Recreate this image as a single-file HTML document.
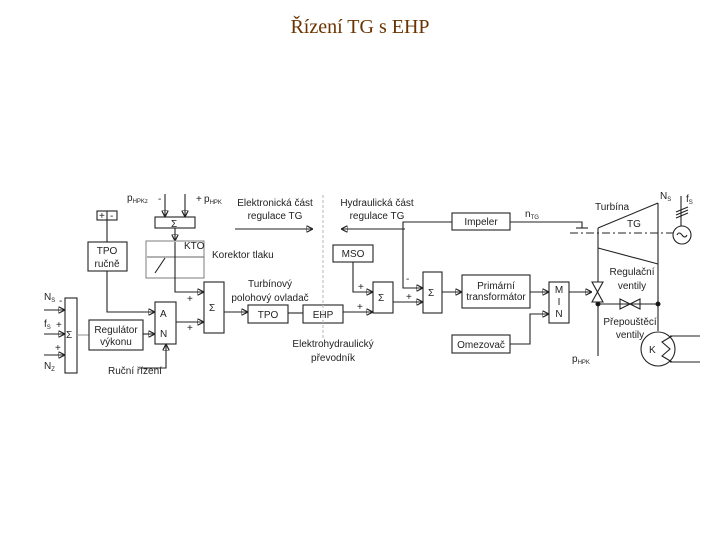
<!DOCTYPE html>
<html><head><meta charset="utf-8"><style>
body{margin:0;background:#fff;width:720px;height:540px;overflow:hidden}
svg{position:absolute;left:0;top:0}
text{font-family:"Liberation Sans",sans-serif;font-size:10px;fill:#222}
.t{font-family:"Liberation Serif",serif;font-size:20px;fill:#6b3300}
rect{fill:#fff;stroke:#222;stroke-width:1.1}
circle{stroke:#222;stroke-width:1.1}
line,polyline,path{stroke:#222;stroke-width:1.1;fill:none}
</style></head><body>
<svg width="720" height="540" viewBox="0 0 720 540">
<defs><marker id="a" markerWidth="6" markerHeight="6" refX="6" refY="3" orient="auto"><path d="M0,0 L6,3 L0,6z" fill="#111" stroke="none"/></marker></defs>
<text class="t" x="360" y="33" text-anchor="middle">Řízení TG s EHP</text>

<text x="127" y="201">p<tspan font-size="6" dy="2">HPKz</tspan></text>
<text x="158" y="202">-</text><text x="196" y="202" font-size="7">+</text>
<text x="204" y="202">p<tspan font-size="6" dy="2">HPK</tspan></text>
<line x1="165" y1="194" x2="165" y2="217" marker-end="url(#a)"/>
<line x1="185" y1="194" x2="185" y2="217" marker-end="url(#a)"/>
<rect x="155" y="217" width="40" height="11"/><text x="171" y="227">Σ</text>
<line x1="175" y1="228" x2="175" y2="241" marker-end="url(#a)"/>
<rect x="146" y="241" width="58" height="37" style="stroke:#888"/>
<line x1="147" y1="257" x2="204" y2="257" style="stroke:#666"/>
<line x1="175" y1="242" x2="175" y2="278"/>
<line x1="155" y1="273" x2="165" y2="258"/>
<text x="184" y="249" font-size="9">KTO</text>
<text x="212" y="258">Korektor tlaku</text>

<rect x="97" y="211" width="20" height="9"/><line x1="107" y1="211" x2="107" y2="220"/>
<text x="99" y="219" font-size="8">+</text><text x="110" y="219" font-size="8">-</text>
<line x1="107" y1="220" x2="107" y2="242"/>
<rect x="88" y="242" width="39" height="29"/>
<text x="107" y="254" text-anchor="middle">TPO</text><text x="107" y="267" text-anchor="middle">ručně</text>
<polyline points="107,271 107,312 155,312" marker-end="url(#a)"/>

<rect x="155" y="302" width="21" height="42"/>
<text x="160" y="317">A</text><text x="160" y="337">N</text>
<polyline points="175,278 175,292 204,292" marker-end="url(#a)"/>
<text x="187" y="302" font-size="8">+</text>
<line x1="176" y1="322" x2="204" y2="322" marker-end="url(#a)"/>
<text x="187" y="331" font-size="8">+</text>
<rect x="204" y="282" width="20" height="51"/><text x="209" y="311">Σ</text>
<line x1="224" y1="312" x2="248" y2="312" marker-end="url(#a)"/>
<text x="270" y="287" text-anchor="middle">Turbínový</text>
<text x="270" y="301" text-anchor="middle">polohový ovladač</text>
<rect x="248" y="305" width="40" height="18"/><text x="268" y="318" text-anchor="middle">TPO</text>
<line x1="288" y1="313" x2="303" y2="313"/>
<rect x="303" y="305" width="40" height="18"/><text x="323" y="318" text-anchor="middle">EHP</text>
<text x="333" y="347" text-anchor="middle">Elektrohydraulický</text>
<text x="333" y="361" text-anchor="middle">převodník</text>

<rect x="65" y="298" width="12" height="75"/><text x="66" y="338">Σ</text>
<text x="44" y="300">N<tspan font-size="6" dy="2">S</tspan></text><text x="59" y="304" font-size="8">-</text>
<line x1="44" y1="310" x2="65" y2="310" marker-end="url(#a)"/>
<text x="44" y="327">f<tspan font-size="6" dy="2">S</tspan></text><text x="56" y="328" font-size="8">+</text>
<line x1="44" y1="334" x2="65" y2="334" marker-end="url(#a)"/>
<text x="55" y="351" font-size="8">+</text>
<line x1="44" y1="355" x2="65" y2="355" marker-end="url(#a)"/>
<text x="44" y="369">N<tspan font-size="6" dy="2">Z</tspan></text>
<line x1="77" y1="335" x2="89" y2="335" style="stroke:#999"/>
<rect x="89" y="320" width="54" height="30"/>
<text x="116" y="333" text-anchor="middle" font-size="9">Regulátor</text>
<text x="116" y="345" text-anchor="middle" font-size="9">výkonu</text>
<line x1="143" y1="334" x2="155" y2="334" marker-end="url(#a)"/>
<text x="108" y="374" font-size="9">Ruční řízení</text>
<polyline points="140,368 166,368 166,344" marker-end="url(#a)"/>

<line x1="323" y1="195" x2="323" y2="340" style="stroke:#bbb;stroke-dasharray:3,2"/>
<text x="275" y="206" text-anchor="middle">Elektronická část</text>
<text x="275" y="219" text-anchor="middle">regulace TG</text>
<line x1="235" y1="229" x2="313" y2="229" marker-end="url(#a)"/>
<text x="377" y="206" text-anchor="middle">Hydraulická část</text>
<text x="377" y="219" text-anchor="middle">regulace TG</text>
<line x1="405" y1="229" x2="341" y2="229" marker-end="url(#a)"/>

<rect x="333" y="245" width="40" height="17"/><text x="353" y="257" text-anchor="middle">MSO</text>
<polyline points="353,262 353,292 373,292" marker-end="url(#a)"/>
<text x="358" y="290" font-size="8">+</text>
<line x1="343" y1="312" x2="373" y2="312" marker-end="url(#a)"/>
<text x="357" y="310" font-size="8">+</text>
<rect x="373" y="282" width="20" height="31"/><text x="378" y="301">Σ</text>
<line x1="393" y1="302" x2="423" y2="302" marker-end="url(#a)"/>
<text x="406" y="300" font-size="8">+</text>
<rect x="452" y="213" width="58" height="17"/><text x="481" y="225" text-anchor="middle">Impeler</text>
<polyline points="452,222 403,222 403,288 423,288" marker-end="url(#a)"/>
<text x="406" y="282" font-size="8">-</text>
<rect x="423" y="272" width="19" height="41"/><text x="428" y="296">Σ</text>
<line x1="442" y1="292" x2="462" y2="292" marker-end="url(#a)"/>
<rect x="462" y="275" width="68" height="33"/>
<text x="496" y="289" text-anchor="middle" font-size="9">Primární</text>
<text x="496" y="300" text-anchor="middle" font-size="9">transformátor</text>
<line x1="530" y1="292" x2="549" y2="292" marker-end="url(#a)"/>
<rect x="549" y="282" width="20" height="41"/>
<text x="559" y="293" text-anchor="middle">M</text><text x="559" y="305" text-anchor="middle">I</text><text x="559" y="317" text-anchor="middle">N</text>
<rect x="452" y="335" width="58" height="18"/><text x="481" y="348" text-anchor="middle">Omezovač</text>
<polyline points="510,344 530,344 530,314 549,314" marker-end="url(#a)"/>
<line x1="569" y1="292" x2="592" y2="292" marker-end="url(#a)"/>
<text x="525" y="217">n<tspan font-size="6" dy="2">TG</tspan></text>
<polyline points="510,222 582,222 582,228"/>
<line x1="576" y1="228" x2="588" y2="228"/>
<line x1="570" y1="233" x2="692" y2="233" style="stroke-dasharray:8,3,2,3"/>

<line x1="598" y1="228" x2="658" y2="203"/>
<line x1="598" y1="248" x2="658" y2="264"/>
<line x1="598" y1="228" x2="598" y2="282"/>
<line x1="598" y1="302" x2="598" y2="356"/>
<line x1="658" y1="203" x2="658" y2="331"/>
<path d="M592,282 L603,282 L592,302 L603,302 Z"/>
<line x1="598" y1="304" x2="658" y2="304"/>
<path d="M620,299 L620,309 L640,299 L640,309 Z" fill="#fff"/>
<circle cx="598" cy="304" r="2" fill="#111"/><circle cx="658" cy="304" r="2" fill="#111"/>
<text x="595" y="210">Turbína</text>
<text x="627" y="227">TG</text>
<text x="632" y="275" text-anchor="middle">Regulační</text>
<text x="632" y="289" text-anchor="middle">ventily</text>
<text x="630" y="325" text-anchor="middle">Přepouštěcí</text>
<text x="630" y="338" text-anchor="middle">ventily</text>
<text x="572" y="362">p<tspan font-size="6" dy="2">HPK</tspan></text>
<line x1="681" y1="196" x2="681" y2="226"/>
<line x1="676" y1="212" x2="688" y2="207"/><line x1="676" y1="215" x2="688" y2="210"/><line x1="676" y1="218" x2="688" y2="213"/>
<circle cx="682" cy="235" r="9" fill="#fff"/>
<path d="M677,235 q2,-4 5,0 q3,4 5,0"/>
<text x="660" y="199">N<tspan font-size="6" dy="2">S</tspan></text>
<text x="686" y="202">f<tspan font-size="6" dy="2">S</tspan></text>
<circle cx="658" cy="349" r="17" fill="#fff"/>
<text x="649" y="353">K</text>
<polyline points="672,336 662,342 670,349 662,356 672,362"/>
<line x1="670" y1="336" x2="700" y2="336"/><line x1="670" y1="362" x2="700" y2="362"/>
</svg>
</body></html>
